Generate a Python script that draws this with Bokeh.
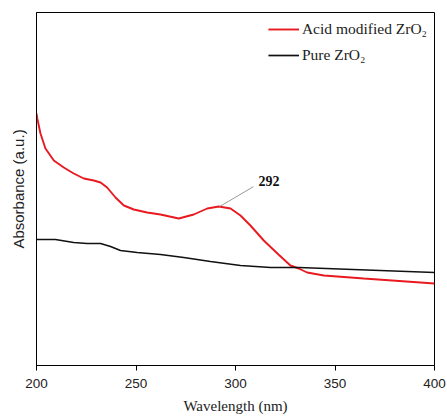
from bokeh.plotting import figure
from bokeh.models import Range1d, FixedTicker, Legend, LegendItem, Label
from bokeh.embed import file_html
from bokeh.resources import INLINE
import numpy as np

# ---- data (arbitrary absorbance units) ----
acid_wl = [200, 200.4, 202.0, 204.5, 208.7, 213.7, 218.7, 223.8, 228.8, 232.2, 235.5,
           239.7, 243.9, 248.9, 255.6, 262.3, 271.5, 279.0, 285.8, 291.6, 297.5, 302.5,
           307.5, 314.2, 321.6, 327.6, 331.8, 336.0, 344.4, 364.5, 400]
acid_abs = [2.52, 2.47, 2.32, 2.17, 2.05, 1.98, 1.92, 1.87, 1.85, 1.83, 1.78,
            1.68, 1.60, 1.56, 1.53, 1.51, 1.47, 1.51, 1.57, 1.59, 1.57, 1.50,
            1.40, 1.25, 1.11, 1.00, 0.97, 0.93, 0.90, 0.87, 0.82]
pure_wl = [200, 209.5, 218.7, 225.5, 232.2, 237.2, 242.2, 250.6, 262.3, 274.0, 287.4,
           302.5, 317.6, 331.8, 400]
pure_abs = [1.26, 1.26, 1.23, 1.22, 1.22, 1.19, 1.15, 1.13, 1.11, 1.08, 1.04,
            1.00, 0.98, 0.98, 0.93]
x_ticks = [200, 250, 300, 350, 400]
peak_wl = 292
peak_label = "292"
series_names = ["Acid modified ZrO\u2082", "Pure ZrO\u2082"]

RED = "#e8191f"
BLACK = "#111111"

p = figure(frame_width=398, frame_height=353,
           x_range=Range1d(200, 400), y_range=Range1d(0, 3.53),
           output_backend="svg", toolbar_location=None,
           min_border_left=36, min_border_top=12, min_border_right=13, min_border_bottom=52)
p.background_fill_color = "white"
p.border_fill_color = "white"
p.outline_line_color = "black"
p.outline_line_width = 1
p.xgrid.visible = False
p.ygrid.visible = False

r1 = p.line(acid_wl, acid_abs, line_color=RED, line_width=1.9)
r2 = p.line(pure_wl, pure_abs, line_color=BLACK, line_width=1.7)

# x axis
xa = p.xaxis[0]
xa.ticker = FixedTicker(ticks=x_ticks)
xa.minor_tick_line_color = None
xa.major_tick_in = 0
xa.major_tick_out = 5
xa.major_label_text_font = "Liberation Sans"
xa.major_label_text_font_size = "13.5px"
xa.major_label_text_color = "#222222"
xa.major_label_standoff = 8
xa.axis_label = "Wavelength (nm)"
xa.axis_label_text_font = "Liberation Serif"
xa.axis_label_text_font_style = "normal"
xa.axis_label_text_font_size = "15px"
xa.axis_label_text_color = "#222222"
xa.axis_label_standoff = 7
xa.axis_line_color = "black"

# y axis (no ticks)
ya = p.yaxis[0]
ya.ticker = FixedTicker(ticks=[])
ya.minor_tick_line_color = None
ya.major_tick_line_color = None
ya.major_label_text_font_size = "0px"
ya.axis_label = "Absorbance (a.u.)"
ya.axis_label_text_font = "Liberation Sans"
ya.axis_label_text_font_style = "normal"
ya.axis_label_text_font_size = "15px"
ya.axis_label_text_color = "#222222"
ya.axis_label_standoff = 10
ya.axis_line_color = "black"

# annotation for the peak
peak_y = float(np.interp(peak_wl, acid_wl, acid_abs))
p.segment(x0=[peak_wl], y0=[peak_y], x1=[peak_wl + 17], y1=[peak_y + 0.2],
          line_color="#999999", line_width=1)
p.add_layout(Label(x=peak_wl, y=peak_y, x_offset=39, y_offset=26, text=peak_label,
                   text_font="Liberation Serif", text_font_style="bold",
                   text_font_size="14px", text_baseline="middle", text_align="left",
                   text_color="#111111"))

legend = Legend(items=[LegendItem(label=series_names[0], renderers=[r1]),
                       LegendItem(label=series_names[1], renderers=[r2])],
                location="top_right")
legend.border_line_alpha = 0
legend.background_fill_alpha = 0
legend.label_text_font = "Liberation Serif"
legend.label_text_font_size = "15.5px"
legend.label_text_color = "#222222"
legend.glyph_width = 31
legend.glyph_height = 20
legend.label_standoff = 3
legend.spacing = 6
legend.padding = 5
legend.margin = 2
p.add_layout(legend)

open("out.html", "w").write(file_html(p, INLINE))
